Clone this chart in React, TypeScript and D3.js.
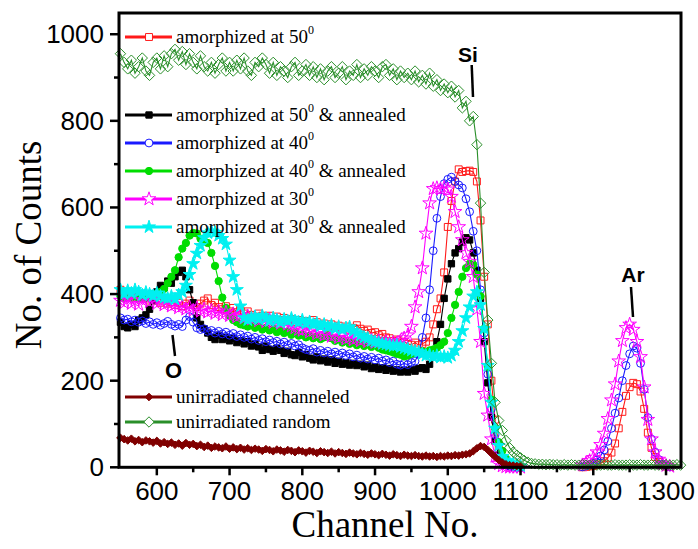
import React from 'react';
import * as d3 from 'd3';

// channel grids
const CH = d3.range(550, 1101, 5);
const AR_CH = d3.range(1185, 1306, 5);
const TAIL_CH = d3.range(1105, 1321, 5);

const RANDOM = [
  955, 935, 920, 940, 910, 925, 945, 915, 905, 935,
  945, 920, 950, 925, 955, 965, 940, 960, 930, 955,
  935, 920, 950, 925, 915, 935, 910, 930, 945, 915,
  935, 915, 940, 920, 945, 915, 905, 935, 925, 945,
  930, 910, 935, 905, 925, 915, 900, 925, 935, 905,
  915, 930, 905, 925, 900, 920, 895, 915, 925, 900,
  910, 925, 895, 915, 905, 930, 900, 920, 905, 925,
  915, 900, 925, 930, 905, 920, 895, 915, 900, 910,
  895, 915, 890, 905, 885, 910, 880, 895, 870, 885,
  865, 880, 855, 870, 830, 845, 800, 810, 745, 610,
  450, 340, 240, 150, 108, 85, 62, 45, 35, 28,
  22,
];
const RANDOM_TAIL = [
  16, 12, 9, 8, 7, 7, 6, 7, 6, 6,
  5, 6, 5, 6, 5, 5, 6, 5, 5, 6,
  5, 5, 6, 5, 5, 6, 5, 5, 5, 6,
  5, 5, 6, 5, 5, 6, 5, 5, 5, 6,
  5, 5, 6, 5,
];
const CHANNELED = [
  68, 65, 62, 66, 60, 63, 58, 62, 60, 57,
  61, 55, 58, 54, 57, 52, 55, 50, 56, 52,
  54, 49, 52, 47, 50, 45, 48, 46, 44, 48,
  43, 46, 42, 45, 41, 44, 40, 43, 41, 38,
  42, 40, 37, 41, 39, 36, 40, 38, 35, 39,
  37, 34, 38, 36, 33, 37, 35, 33, 36, 32,
  35, 33, 31, 34, 32, 30, 33, 31, 29, 32,
  30, 28, 31, 29, 27, 30, 28, 26, 29, 27,
  26, 28, 26, 25, 27, 25, 26, 24, 26, 25,
  27, 26, 28, 27, 29, 30, 32, 37, 44, 49,
  47, 40, 32, 24, 17, 11, 7, 5, 4, 3,
  3,
];
const AM50 = [
  410, 405, 400, 395, 392, 400, 395, 390, 385, 392,
  385, 380, 385, 378, 382, 375, 380, 372, 378, 385,
  375, 370, 378, 385, 390, 375, 380, 370, 365, 372,
  360, 368, 358, 362, 355, 360, 352, 348, 355, 350,
  345, 350, 342, 348, 340, 345, 338, 342, 335, 340,
  333, 338, 330, 340, 335, 328, 332, 325, 330, 322,
  327, 320, 325, 318, 322, 328, 320, 315, 318, 310,
  312, 305, 308, 300, 298, 292, 295, 288, 290, 285,
  283, 288, 282, 285, 290, 300, 330, 365, 390, 450,
  555, 615, 660, 688, 682, 684, 685, 682, 660, 570,
  440, 330, 200, 110, 50, 20, 8, 3, 2, 1,
  0,
];
const AM50_AR = [0, 1, 2, 3, 6, 9, 14, 22, 34, 55, 90, 128, 165, 185, 195, 192, 175, 135, 80, 45, 24, 12, 5, 2, 1];
const AM50_ANN = [
  335, 325, 322, 330, 325, 340, 345, 352, 365, 385,
  405, 420, 415, 430, 425, 440, 450, 455, 440, 410,
  380, 345, 330, 320, 310, 300, 295, 305, 295, 300,
  292, 298, 288, 292, 285, 290, 280, 285, 278, 270,
  280, 272, 268, 275, 270, 263, 268, 260, 258, 265,
  255, 260, 252, 248, 255, 246, 250, 243, 248, 240,
  245, 238, 242, 236, 240, 235, 238, 232, 236, 228,
  232, 226, 230, 224, 228, 222, 225, 220, 224, 220,
  226, 222, 228, 230, 226, 238, 260, 290, 330, 390,
  435, 470, 495, 505, 520, 530, 525, 495, 455, 390,
  290, 195, 116, 60, 28, 12, 5, 2, 1, 0,
  0,
];
const AM40 = [
  345, 340, 342, 336, 340, 335, 338, 332, 336, 330,
  334, 328, 332, 337, 330, 326, 330, 325, 340, 348,
  335, 322, 318, 320, 314, 316, 310, 314, 308, 312,
  305, 309, 302, 306, 300, 303, 296, 300, 293, 297,
  290, 294, 288, 291, 285, 289, 282, 286, 280, 283,
  276, 272, 270, 274, 266, 270, 264, 268, 262, 266,
  260, 264, 258, 262, 255, 259, 252, 256, 250, 254,
  248, 252, 245, 248, 242, 245, 238, 236, 240, 237,
  242, 245, 262, 300, 345, 410, 500, 575, 625, 655,
  665, 670, 660, 652, 645, 620, 590, 545, 500, 410,
  310, 215, 135, 75, 35, 15, 6, 2, 1, 0,
  0,
];
const AM40_AR = [1, 3, 6, 10, 17, 26, 40, 60, 90, 125, 160, 200, 235, 262, 280, 275, 240, 180, 115, 65, 35, 18, 8, 3, 1];
const AM40_ANN = [
  395, 390, 398, 392, 396, 390, 395, 392, 397, 400,
  398, 405, 412, 425, 440, 455, 485, 505, 518, 535,
  541, 540, 528, 522, 518, 495, 465, 430, 392, 368,
  350, 340, 335, 330, 328, 325, 330, 322, 326, 318,
  322, 316, 320, 312, 316, 310, 314, 306, 310, 304,
  306, 300, 304, 298, 302, 296, 300, 305, 298, 292,
  296, 288, 292, 285, 289, 282, 286, 280, 284, 278,
  282, 276, 272, 270, 268, 265, 262, 260, 256, 258,
  262, 265, 266, 268, 265, 270, 272, 276, 282, 290,
  310, 345, 375, 405, 440, 460, 470, 468, 445, 395,
  320, 232, 156, 90, 58, 38, 20, 10, 5, 2,
  1,
];
const AM30 = [
  385, 380, 388, 378, 384, 376, 386, 392, 382, 388,
  378, 384, 375, 380, 372, 376, 368, 372, 365, 370,
  362, 368, 360, 365, 358, 362, 355, 360, 352, 358,
  350, 354, 347, 352, 344, 349, 342, 346, 338, 344,
  336, 341, 334, 339, 332, 337, 330, 326, 322, 318,
  316, 320, 312, 316, 308, 312, 305, 308, 302, 306,
  299, 303, 296, 300, 294, 298, 292, 296, 290, 294,
  288, 292, 286, 290, 285, 288, 286, 292, 298, 305,
  325, 370, 405, 460, 540, 610, 643, 645, 642, 646,
  642, 625, 590, 555, 525, 495, 475, 440, 365, 290,
  170, 120, 65, 25, 8, 3, 1, 0, 0, 0,
  0,
];
const AM30_AR = [5, 10, 15, 22, 35, 52, 78, 112, 155, 192, 245, 292, 322, 330, 318, 290, 255, 185, 110, 65, 35, 18, 8, 4, 2];
const AM30_ANN = [
  410, 400, 408, 402, 410, 405, 398, 404, 400, 396,
  402, 395, 392, 390, 395, 388, 398, 405, 420, 445,
  470, 494, 512, 530, 541, 545, 542, 535, 528, 515,
  478, 440, 410, 372, 345, 340, 345, 348, 342, 350,
  344, 338, 345, 340, 335, 342, 338, 344, 338, 335,
  340, 332, 336, 330, 333, 326, 330, 324, 328, 320,
  325, 318, 322, 324, 315, 310, 305, 300, 298, 292,
  290, 288, 285, 284, 282, 280, 282, 278, 275, 273,
  270, 268, 266, 262, 258, 260, 255, 258, 254, 256,
  253, 258, 270, 290, 315, 345, 370, 395, 405, 375,
  320, 235, 150, 90, 50, 25, 15, 10, 8, 5,
  3,
];

const X_TICKS = [600, 700, 800, 900, 1000, 1100, 1200, 1300];
const X_MINOR = [650, 750, 850, 950, 1050, 1150, 1250];
const Y_TICKS = [0, 200, 400, 600, 800, 1000];
const Y_MINOR = [100, 300, 500, 700, 900];

type Marker = 'square' | 'circle' | 'star' | 'diamond';
interface Series {
  key: string;
  label: string;
  suffix: string;
  sup: boolean;
  color: string;
  marker: Marker;
  filled: boolean;
  segments: [number[], number[]][];
}

const SERIES: Series[] = [
  { key: 'am50', label: 'amorphized at 50', suffix: '', sup: true, color: '#ff1a1a', marker: 'square', filled: false, segments: [[CH, AM50], [AR_CH, AM50_AR]] },
  { key: 'am50a', label: 'amorphized at 50', suffix: ' & annealed', sup: true, color: '#000000', marker: 'square', filled: true, segments: [[CH, AM50_ANN]] },
  { key: 'am40', label: 'amorphized at 40', suffix: '', sup: true, color: '#1a1aff', marker: 'circle', filled: false, segments: [[CH, AM40], [AR_CH, AM40_AR]] },
  { key: 'am40a', label: 'amorphized at 40', suffix: ' & annealed', sup: true, color: '#00dd00', marker: 'circle', filled: true, segments: [[CH, AM40_ANN]] },
  { key: 'am30', label: 'amorphized at 30', suffix: '', sup: true, color: '#ff00ff', marker: 'star', filled: false, segments: [[CH, AM30], [AR_CH, AM30_AR]] },
  { key: 'am30a', label: 'amorphized at 30', suffix: ' & annealed', sup: true, color: '#00f0f0', marker: 'star', filled: true, segments: [[CH, AM30_ANN]] },
  { key: 'chan', label: 'unirradiated channeled', suffix: '', sup: false, color: '#800000', marker: 'diamond', filled: true, segments: [[CH, CHANNELED]] },
  { key: 'rand', label: 'unirradiated random', suffix: '', sup: false, color: '#2a8f2a', marker: 'diamond', filled: false, segments: [[CH.concat(TAIL_CH), RANDOM.concat(RANDOM_TAIL)]] },
];

function markerPath(m: Marker, filled: boolean): string {
  if (m === 'square') return d3.symbol(d3.symbolSquare, filled ? 40 : 48)() as string;
  if (m === 'circle') return d3.symbol(d3.symbolCircle, filled ? 42 : 48)() as string;
  if (m === 'star') return d3.symbol(d3.symbolStar, filled ? 52 : 58)() as string;
  const r = filled ? 3.8 : 5.2;
  return `M0,${-r}L${r},0L0,${r}L${-r},0Z`;
}

export default function App() {
  const left = 119, right = 681, top = 13, bottom = 467.3;
  const x = d3.scaleLinear().domain([548, 1320.6]).range([left, right]);
  const y = d3.scaleLinear().domain([0, 1049]).range([bottom, top]);
  const line = d3.line<[number, number]>().x((d) => x(d[0])).y((d) => y(d[1]));

  const sans = "'Liberation Sans', Arial, sans-serif";
  const serif = "'Liberation Serif', 'Times New Roman', serif";

  const legendRows1 = [37, 115, 143, 171, 199, 227];
  const legendRows2 = [397, 422];
  const legendY = (i: number) => (i < 6 ? legendRows1[i] : legendRows2[i - 6]);

  return (
    <div style={{ position: 'absolute', left: 0, top: 0 }}>
      <svg width={698} height={549} style={{ display: 'block', background: '#fff' }}>
        {/* data */}
        {SERIES.map((s) => (
          <g key={s.key}>
            {s.segments.map(([cx, vy], si) => {
              const pts: [number, number][] = cx.map((c, i) => [c, vy[i]]);
              const d = markerPath(s.marker, s.filled);
              return (
                <g key={si}>
                  <path d={line(pts) as string} fill="none" stroke={s.color} strokeWidth={1.1} />
                  {pts.map((p, i) => (
                    <path
                      key={i}
                      d={d}
                      transform={`translate(${x(p[0])},${y(p[1])})`}
                      fill={s.filled ? s.color : 'none'}
                      stroke={s.color}
                      strokeWidth={1}
                    />
                  ))}
                </g>
              );
            })}
          </g>
        ))}

        {/* frame */}
        <rect x={left} y={top} width={right - left} height={bottom - top} fill="none" stroke="#000" strokeWidth={3} />

        {/* x ticks */}
        {X_TICKS.map((t) => (
          <g key={t}>
            <line x1={x(t)} x2={x(t)} y1={bottom} y2={bottom + 8} stroke="#000" strokeWidth={2.5} />
            <text x={x(t)} y={500} textAnchor="middle" fontFamily={sans} fontSize={26}>{t}</text>
          </g>
        ))}
        {X_MINOR.map((t) => (
          <line key={t} x1={x(t)} x2={x(t)} y1={bottom} y2={bottom + 5} stroke="#000" strokeWidth={2.5} />
        ))}
        {/* y ticks */}
        {Y_TICKS.map((t) => (
          <g key={t}>
            <line x1={left - 9} x2={left} y1={y(t)} y2={y(t)} stroke="#000" strokeWidth={2.5} />
            <text x={104} y={y(t)} textAnchor="end" dominantBaseline="central" fontFamily={sans} fontSize={26}>{t}</text>
          </g>
        ))}
        {Y_MINOR.map((t) => (
          <line key={t} x1={left - 5} x2={left} y1={y(t)} y2={y(t)} stroke="#000" strokeWidth={2.5} />
        ))}

        {/* axis titles */}
        <text x={385} y={537} textAnchor="middle" fontFamily={serif} fontSize={37}>Channel No.</text>
        <text transform="translate(41,245) rotate(-90)" textAnchor="middle" fontFamily={serif} fontSize={37}>No. of Counts</text>

        {/* legend */}
        {SERIES.map((s, i) => {
          const ly = legendY(i);
          return (
            <g key={s.key}>
              <line x1={125} x2={172} y1={ly} y2={ly} stroke={s.color} strokeWidth={3} />
              <path
                d={markerPath(s.marker, s.filled)}
                transform={`translate(149,${ly})`}
                fill={s.filled ? s.color : '#fff'}
                stroke={s.color}
                strokeWidth={1}
              />
              <text x={176} y={ly + 6} fontFamily={serif} fontSize={19}>
                {s.label}
                {s.sup ? <tspan fontSize={12} dy={-9}>0</tspan> : null}
                {s.suffix ? <tspan dy={s.sup ? 9 : 0}>{s.suffix}</tspan> : null}
              </text>
            </g>
          );
        })}

        {/* annotations */}
        <text x={468} y={62} textAnchor="middle" fontFamily={sans} fontWeight="bold" fontSize={21}>Si</text>
        <line x1={471.7} y1={65} x2={473} y2={97} stroke="#000" strokeWidth={2.5} />
        <text x={633} y={282} textAnchor="middle" fontFamily={sans} fontWeight="bold" fontSize={21}>Ar</text>
        <line x1={631} y1={287} x2={633} y2={317} stroke="#000" strokeWidth={2.5} />
        <text x={173.5} y={378} textAnchor="middle" fontFamily={sans} fontWeight="bold" fontSize={22}>O</text>
        <line x1={172.5} y1={335} x2={175} y2={356} stroke="#000" strokeWidth={2.5} />
      </svg>
    </div>
  );
}
